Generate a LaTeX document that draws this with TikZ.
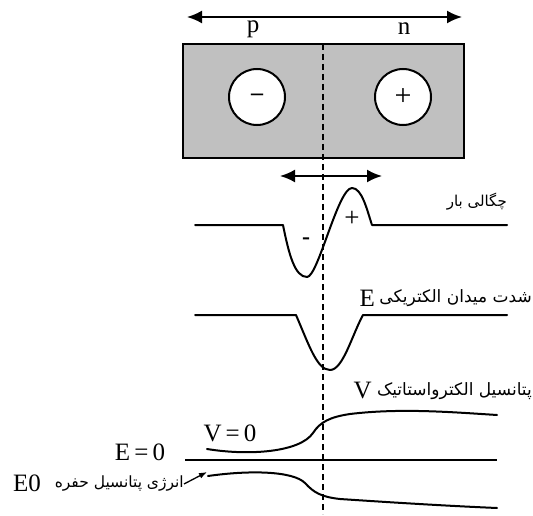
\documentclass[tikz,border=0pt]{standalone}
\usepackage{fontspec}
\setmainfont{Liberation Serif}
\newfontfamily\arabicfont[Script=Arabic]{DejaVu Sans}
\TeXXeTstate=1
\usetikzlibrary{arrows.meta}
\definecolor{boxgray}{RGB}{192,192,192}
\tikzset{
  curve/.style={line width=2pt, line cap=round, line join=round},
  bigarrow/.style={line width=2pt, {Latex[length=15pt,width=13pt]}-{Latex[length=15pt,width=13pt]}},
  lat/.style={inner sep=0pt, font=\fontsize{25}{28}\selectfont},
  fa/.style={inner sep=0pt, font=\arabicfont\fontsize{17}{20}\selectfont},
  ion/.style={circle, draw, line width=2pt, fill=white, minimum size=56pt, inner sep=0pt},
  junction/.style={line width=1.2pt, dash pattern=on 6pt off 4pt}
}
\begin{document}
\begin{tikzpicture}[x=1pt,y=-1pt]
\useasboundingbox (0,0) rectangle (533,516);
% top arrow
\coordinate (ta) at (187,17);
\coordinate (tb) at (462,17);
\draw[bigarrow] (ta) -- (tb);
\node[lat] (p) at (253,29) {p};
\node[lat] (n) at (404,29) {n};
% box
\draw[line width=2pt, fill=boxgray] (183,44) rectangle (464,158);
\node[ion, font=\bfseries\fontsize{24}{26}\selectfont] (cm) at (257,97) {–};
\node[ion, font=\fontsize{30}{32}\selectfont] (cp) at (403,97) {+};
% depletion arrow
\coordinate (da) at (280,176);
\coordinate (db) at (382,176);
\draw[bigarrow] (da) -- (db);
% charge density
\draw[curve] (195,225) -- (283,225) .. controls (289,255) and (295,277) .. (307,277)
  .. controls (318,277) and (338,188) .. (352,188)
  .. controls (362,188) and (367,210) .. (372,225) -- (507,225);
\node[lat, font=\bfseries\fontsize{24}{26}\selectfont] (qm) at (306,241) {-};
\node[lat, font=\fontsize{27}{30}\selectfont] (qp) at (352,219) {+};
\node[fa, font=\arabicfont\fontsize{15}{18}\selectfont, anchor=east] (rho) at (507,202) {\beginR چگالی بار\endR};
% electric field
\draw[curve] (195,315) -- (296,315) .. controls (309,345) and (317,370) .. (330,370)
  .. controls (343,370) and (352,335) .. (363,315) -- (507,315);
\node[fa, anchor=east] (efa) at (532,298) {\beginR شدت میدان الکتریکی\endR};
\node[lat, anchor=east] (ef) at ([xshift=-4pt]efa.west) {E};
% potential
\node[fa, anchor=east] (vfa) at (532,391) {\beginR پتانسیل الکترواستاتیک\endR};
\node[lat, anchor=east] (vf) at ([xshift=-5pt]vfa.west) {V};
\draw[curve] (207,449) .. controls (250,456) and (300,452) .. (313,433)
  .. controls (320,422) and (330,417) .. (350,414)
  .. controls (400,408) and (450,412) .. (497,415);
\node[lat] (v0) at (230,433) {V\,=\,0};
% E = 0 line
\coordinate (za) at (185,460);
\coordinate (zb) at (497,460);
\draw[curve, line cap=butt] (za) -- (zb);
\node[lat] (e0) at (140,452) {E\,=\,0};
% hole potential energy
\draw[curve] (208,476) .. controls (250,470) and (293,471) .. (305,483)
  .. controls (314,493) and (322,497) .. (340,499)
  .. controls (400,503) and (450,506) .. (497,508);
\node[fa, font=\arabicfont\fontsize{15.5}{18}\selectfont, anchor=east] (hfa) at (184,484) {\beginR انرژی پتانسیل حفره\endR};
\node[lat] (E0) at (27,483) {E0};
\coordinate (ha) at (hfa.east);
\coordinate (hb) at (207,472);
\draw[line width=1.3pt, -{Latex[length=8pt,width=6pt]}] (ha) -- (hb);
% junction line
\coordinate (ja) at (323,44);
\coordinate (jb) at (323,514);
\draw[junction] (ja) -- (jb);
\end{tikzpicture}
\end{document}
